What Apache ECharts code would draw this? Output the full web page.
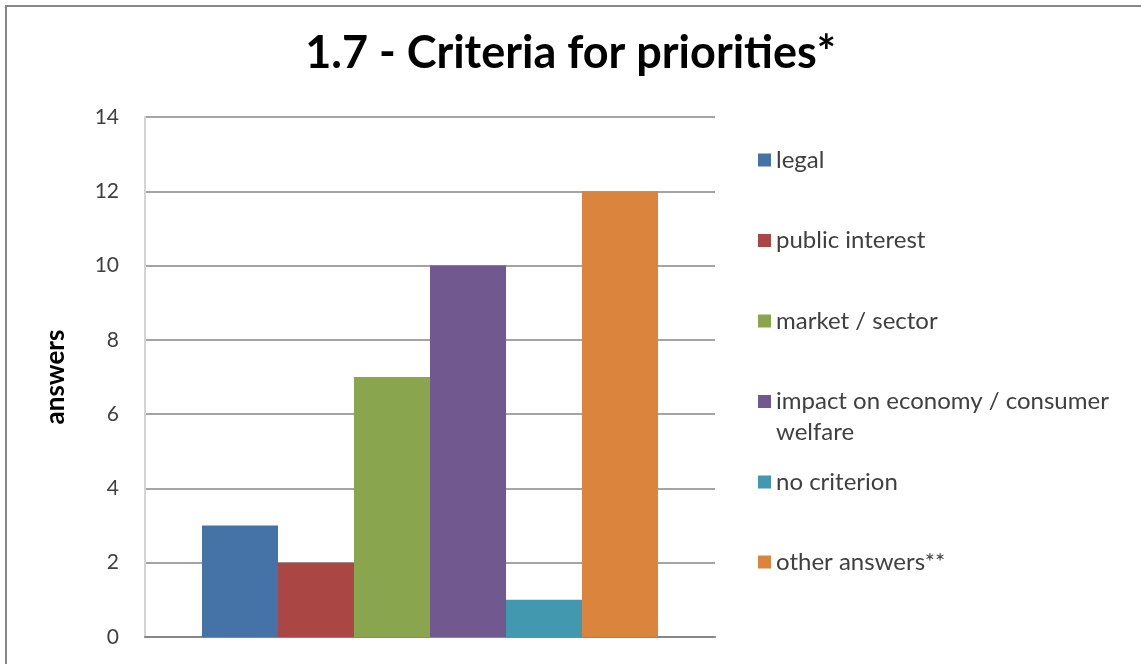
<!DOCTYPE html>
<html><head><meta charset="utf-8">
<script src="https://cdn.jsdelivr.net/npm/echarts@6/dist/echarts.min.js"></script>
<style>html,body{margin:0;padding:0;background:#fff}#c{width:1141px;height:664px}</style>
</head><body><div id="c"></div>
<script>
const title = '1.7 - Criteria for priorities*';
const seriesNames = ['legal','public interest','market / sector','impact on economy / consumer welfare','no criterion','other answers**'];
const seriesValues = [3, 2, 7, 10, 1, 12];
const seriesColors = ['#4572A7','#AA4643','#89A54E','#71588F','#4198AF','#DB843D'];
const yTicks = {min: 0, max: 14, interval: 2};
const axisName = 'answers';

const legendCenters = [160, 240.5, 321, 401.5, 482, 562];
const font = 'Lato, "Open Sans", sans-serif';

const legends = seriesNames.map((n, i) => {
  const multi = n.indexOf('consumer') >= 0;
  return {
    data: [n], orient: 'vertical', left: 758, padding: 0,
    top: multi ? legendCenters[i] - 46.5 : legendCenters[i] - 13,
    itemWidth: 13, itemHeight: 13, itemGap: 0, icon: 'rect',
    selectedMode: false,
    formatter: multi ? (s) => ' \nimpact on economy / consumer\nwelfare' : undefined,
    textStyle: multi ? {fontFamily: font, fontSize: 24, color: '#404040', lineHeight: 31}
                     : {fontFamily: font, fontSize: 24, color: '#404040', lineHeight: 26}
  };
});

const chart = echarts.init(document.getElementById('c'));
chart.setOption({
  backgroundColor: '#ffffff',
  animation: false,
  title: {text: title, left: 'center', top: 26, textStyle: {fontFamily: font, fontSize: 45, fontWeight: 'bold', color: '#000'}},
  legend: legends,
  grid: {left: 145, right: 426, top: 117, bottom: 27},
  xAxis: {type: 'category', data: [''], axisTick: {show: false}, axisLabel: {show: false},
    axisLine: {lineStyle: {color: '#868686', width: 2}}},
  yAxis: {type: 'value', min: yTicks.min, max: yTicks.max, interval: yTicks.interval,
    name: axisName, nameLocation: 'middle', nameGap: 76,
    nameTextStyle: {fontFamily: font, fontSize: 26, fontWeight: 'bold', color: '#000'},
    axisLine: {show: true, lineStyle: {color: '#d4d4d4', width: 2}}, axisTick: {show: false},
    axisLabel: {fontFamily: font, fontSize: 21, color: '#404040', margin: 26},
    splitLine: {lineStyle: {color: '#868686', width: 1.5}}},
  series: seriesNames.map((n, i) => ({
    name: n, type: 'bar', data: [seriesValues[i]], barGap: '0%', barCategoryGap: '20%',
    itemStyle: {color: seriesColors[i]}
  })),
  graphic: [{type: 'rect', shape: {x: 6, y: 6, width: 1300, height: 800}, style: {fill: 'none', stroke: '#888888', lineWidth: 2}, silent: true}]
});
</script></body></html>
